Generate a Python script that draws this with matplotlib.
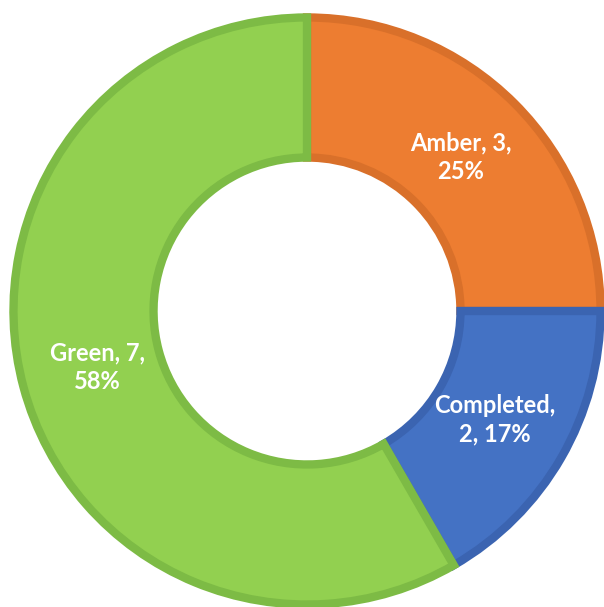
import matplotlib.pyplot as plt

# status breakdown
categories = ["Amber", "Completed", "Green"]
counts = [3, 2, 7]
fill_colors = ["#ED7D31", "#4472C4", "#92D050"]
edge_colors = ["#D9702A", "#3B64B1", "#7DBB45"]

fig = plt.figure(figsize=(6.04, 6.07), dpi=100)
ax = fig.add_axes([0, 0, 1, 1])

idx = iter(range(len(counts)))


def fmt(pct):
    i = next(idx)
    return f"{categories[i]}, {counts[i]},\n{round(pct):.0f}%"


wedges, _, autotexts = ax.pie(
    counts,
    startangle=90,
    counterclock=False,
    radius=0.985,
    colors=fill_colors,
    autopct=fmt,
    pctdistance=0.74,
    wedgeprops=dict(width=0.47, linewidth=6),
)
for w, ec in zip(wedges, edge_colors):
    w.set_edgecolor(ec)

# Excel wraps the completed label differently
autotexts[1].set_text("Completed,\n2, 17%")
for t in autotexts:
    t.set_color("white")
    t.set_fontweight("bold")
    t.set_fontsize(17)
    t.set_family(["Lato", "DejaVu Sans"])
    t.set_linespacing(1.3)

# pie resets the limits, so place the ring afterwards
R = 298.0  # pixels per data unit
cx, cy = 307.0, 311.0
ax.set_xlim(-cx / R, (604 - cx) / R)
ax.set_ylim(-(607 - cy) / R, cy / R)
ax.set_aspect("equal")
ax.axis("off")

fig.savefig("out.png", dpi=100)
